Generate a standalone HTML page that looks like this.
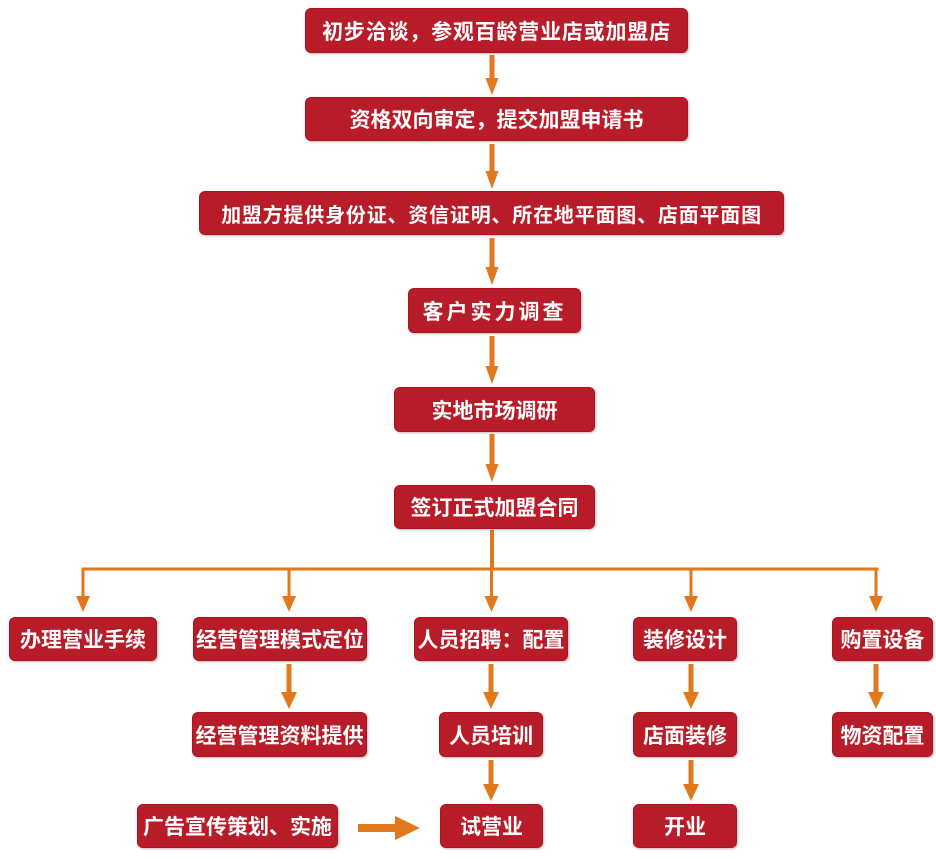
<!DOCTYPE html>
<html>
<head>
<meta charset="utf-8">
<style>
  html, body { margin: 0; padding: 0; background: #ffffff; }
  body { width: 936px; height: 859px; position: relative; overflow: hidden;
         font-family: "Liberation Sans", "Noto Sans CJK SC", "WenQuanYi Zen Hei", sans-serif; }
  .b { position: absolute; background: #b81c29; color: #ffffff; border-radius: 6px;
       display: flex; align-items: center; justify-content: center;
       font-size: 21px; font-weight: bold; white-space: nowrap;
       box-shadow: 1px 1px 2px rgba(120,40,40,0.35); box-sizing: border-box;
       border: 1px solid #a8141f; }
  svg { position: absolute; left: 0; top: 0; }
</style>
</head>
<body>
<svg width="936" height="859" viewBox="0 0 936 859">
  <g fill="#e2781c">
    <!-- main column arrows x=492 -->
    <rect x="489.5" y="55" width="5" height="24"/><polygon points="485.5,78 498.5,78 492,95"/>
    <rect x="489.5" y="144" width="5" height="28"/><polygon points="485.5,171 498.5,171 492,189"/>
    <rect x="489.5" y="238" width="5" height="30"/><polygon points="485.5,267 498.5,267 492,285"/>
    <rect x="489.5" y="336" width="5" height="31"/><polygon points="485.5,366 498.5,366 492,384"/>
    <rect x="489.5" y="434" width="5" height="31"/><polygon points="485.5,464 498.5,464 492,482"/>
    <!-- trunk to horizontal -->
    <rect x="490" y="530" width="4" height="40"/>
    <rect x="81.5" y="567.5" width="797" height="3"/>
    <!-- branch arrows -->
    <rect x="81.5" y="567.5" width="3" height="30"/><polygon points="76,596 90,596 83,612"/>
    <rect x="287.5" y="567.5" width="3" height="30"/><polygon points="282,596 296,596 289,612"/>
    <rect x="490" y="567.5" width="3" height="30"/><polygon points="484.5,596 498.5,596 491.5,612"/>
    <rect x="689.5" y="567.5" width="3" height="30"/><polygon points="684,596 698,596 691,612"/>
    <rect x="874.5" y="567.5" width="3" height="30"/><polygon points="869,596 883,596 876,612"/>
    <!-- row1 to row2 -->
    <rect x="286.5" y="664" width="5" height="29"/><polygon points="281,692 297,692 289,709"/>
    <rect x="488.5" y="664" width="5" height="29"/><polygon points="483,692 499,692 491,709"/>
    <rect x="688.5" y="664" width="5" height="29"/><polygon points="683,692 699,692 691,709"/>
    <rect x="873.5" y="664" width="5" height="29"/><polygon points="868,692 884,692 876,709"/>
    <!-- row2 to row3 -->
    <rect x="488.5" y="760" width="5" height="25"/><polygon points="483,784 499,784 491,801"/>
    <rect x="688.5" y="760" width="5" height="25"/><polygon points="683,784 699,784 691,801"/>
    <!-- thick horizontal arrow -->
    <rect x="358" y="824" width="39" height="8"/><polygon points="395,816 395,840 420,828"/>
  </g>
</svg>

<div class="b" style="left:305px;top:8px;width:383px;height:45px;letter-spacing:0.8px;">初步洽谈，参观百龄营业店或加盟店</div>
<div class="b" style="left:305px;top:97px;width:383px;height:44px;">资格双向审定，提交加盟申请书</div>
<div class="b" style="left:199px;top:191px;width:585px;height:44px;font-size:20px;letter-spacing:0.8px;">加盟方提供身份证、资信证明、所在地平面图、店面平面图</div>
<div class="b" style="left:408px;top:288px;width:173px;height:45px;letter-spacing:3px;">客户实力调查</div>
<div class="b" style="left:394px;top:387px;width:201px;height:45px;">实地市场调研</div>
<div class="b" style="left:394px;top:485px;width:201px;height:44px;">签订正式加盟合同</div>

<div class="b" style="left:9px;top:617px;width:148px;height:44px;">办理营业手续</div>
<div class="b" style="left:193px;top:617px;width:174px;height:44px;">经营管理模式定位</div>
<div class="b" style="left:414px;top:617px;width:154px;height:44px;">人员招聘：配置</div>
<div class="b" style="left:633px;top:617px;width:104px;height:44px;">装修设计</div>
<div class="b" style="left:832px;top:617px;width:101px;height:44px;">购置设备</div>

<div class="b" style="left:192px;top:712px;width:175px;height:45px;">经营管理资料提供</div>
<div class="b" style="left:439px;top:712px;width:104px;height:45px;">人员培训</div>
<div class="b" style="left:633px;top:712px;width:104px;height:45px;">店面装修</div>
<div class="b" style="left:832px;top:712px;width:101px;height:45px;">物资配置</div>

<div class="b" style="left:137px;top:804px;width:201px;height:44px;">广告宣传策划、实施</div>
<div class="b" style="left:440px;top:804px;width:103px;height:44px;">试营业</div>
<div class="b" style="left:633px;top:804px;width:104px;height:44px;">开业</div>
</body>
</html>
